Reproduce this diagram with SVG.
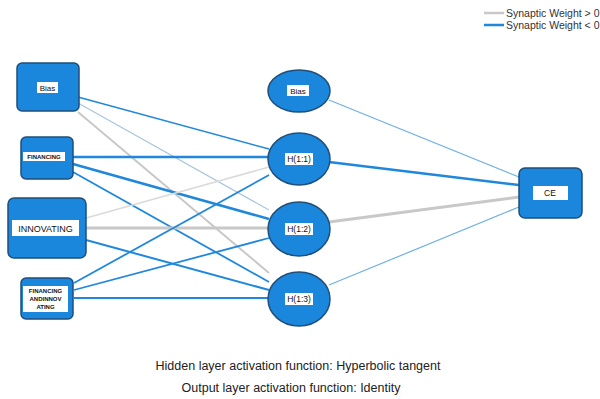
<svg xmlns="http://www.w3.org/2000/svg" width="600" height="399" viewBox="0 0 600 399">
<style>
.node{fill:#1b87dc;stroke:#1f4f7a;stroke-width:1.5}
.lbl{fill:#ffffff}
.t{font-family:"Liberation Sans",Arial,sans-serif;fill:#111;text-anchor:middle}
.neg{stroke:#1f88dc;fill:none}
.pos{stroke:#c8c8c8;fill:none}
.negl{stroke:#6fb0e4;fill:none}
.cap{font-family:"Liberation Sans",Arial,sans-serif;fill:#222;font-size:12.5px;text-anchor:middle}
.leg{font-family:"Liberation Sans",Arial,sans-serif;fill:#333;font-size:10.5px}
</style>
<rect width="600" height="399" fill="#ffffff"/>
<g id="connectors">
<line class="neg" x1="78" y1="97" x2="269" y2="149" stroke-width="1.5"/>
<line class="negl" x1="78" y1="103" x2="269" y2="210" stroke-width="1.2" style="stroke:#a9c6dc"/>
<line class="pos" x1="78" y1="112" x2="269" y2="273" stroke-width="2"/>
<line class="neg" x1="73" y1="157" x2="269" y2="157" stroke-width="2.5"/>
<line class="neg" x1="73" y1="164" x2="269" y2="219" stroke-width="2.5"/>
<line class="neg" x1="73" y1="172" x2="269" y2="282" stroke-width="1.8"/>
<line class="pos" x1="86" y1="218" x2="269" y2="167" stroke-width="1.5" style="stroke:#dadada"/>
<line class="pos" x1="86" y1="228" x2="269" y2="228" stroke-width="3"/>
<line class="neg" x1="86" y1="240" x2="269" y2="290" stroke-width="2"/>
<line class="neg" x1="74" y1="283" x2="269" y2="175" stroke-width="1.8"/>
<line class="neg" x1="74" y1="290" x2="269" y2="238" stroke-width="1.8"/>
<line class="neg" x1="74" y1="298" x2="269" y2="298" stroke-width="1.8"/>
<line class="negl" x1="329" y1="100" x2="519" y2="177" stroke-width="1.2"/>
<line class="neg" x1="329" y1="162" x2="519" y2="185" stroke-width="2.5"/>
<line class="pos" x1="329" y1="222" x2="519" y2="197" stroke-width="3"/>
<line class="negl" x1="329" y1="285" x2="519" y2="207" stroke-width="1.2"/>
</g>
<g id="in_bias">
<rect class="node" x="17" y="63" width="62" height="48" rx="5"/>
<rect class="lbl" x="37" y="82" width="21" height="11"/>
<text class="t" x="47.5" y="91" font-size="8">Bias</text>
</g>
<g id="in_financing">
<rect class="node" x="21" y="137" width="52" height="42" rx="5"/>
<rect class="lbl" x="23" y="152" width="42" height="9"/>
<text class="t" x="44" y="159" font-size="6" font-weight="bold">FINANCING</text>
</g>
<g id="in_innovating">
<rect class="node" x="8" y="198" width="78" height="60" rx="6"/>
<rect class="lbl" x="12" y="220" width="67" height="16"/>
<text class="t" x="45.5" y="231.5" font-size="9">INNOVATING</text>
</g>
<g id="in_fin_inn">
<rect class="node" x="21" y="278" width="52" height="41" rx="5"/>
<rect class="lbl" x="23" y="286" width="45" height="26"/>
<text class="t" x="45.5" y="293" font-size="6" font-weight="bold">FINANCING</text>
<text class="t" x="45.5" y="301" font-size="6" font-weight="bold">ANDINNOV</text>
<text class="t" x="45.5" y="309" font-size="6" font-weight="bold">ATING</text>
</g>
<g id="h_bias">
<ellipse class="node" cx="299" cy="91" rx="31" ry="21"/>
<rect class="lbl" x="287" y="85" width="22" height="11"/>
<text class="t" x="298" y="94" font-size="8">Bias</text>
</g>
<g id="h11">
<ellipse class="node" cx="299" cy="159" rx="31" ry="26"/>
<rect class="lbl" x="285" y="153" width="28" height="12"/>
<text class="t" x="299" y="162" font-size="8.5">H(1:1)</text>
</g>
<g id="h12">
<ellipse class="node" cx="299" cy="229" rx="31" ry="27"/>
<rect class="lbl" x="285" y="223" width="28" height="12"/>
<text class="t" x="299" y="232" font-size="8.5">H(1:2)</text>
</g>
<g id="h13">
<ellipse class="node" cx="299" cy="299" rx="31" ry="27"/>
<rect class="lbl" x="285" y="293" width="28" height="12"/>
<text class="t" x="299" y="302" font-size="8.5">H(1:3)</text>
</g>
<g id="out_ce">
<rect class="node" x="519" y="168" width="63" height="50" rx="6"/>
<rect class="lbl" x="533" y="186" width="35" height="14"/>
<text class="t" x="550" y="196" font-size="8.5">CE</text>
</g>
<g id="legend">
<line x1="484" y1="13" x2="504" y2="13" stroke="#c8c8c8" stroke-width="2.5"/>
<line x1="484" y1="25" x2="504" y2="25" stroke="#1f88dc" stroke-width="2.5"/>
<text class="leg" x="506" y="17">Synaptic Weight &gt; 0</text>
<text class="leg" x="506" y="29">Synaptic Weight &lt; 0</text>
</g>
<g id="captions">
<text class="cap" x="298" y="370">Hidden layer activation function: Hyperbolic tangent</text>
<text class="cap" x="291" y="392">Output layer activation function: Identity</text>
</g>
</svg>
